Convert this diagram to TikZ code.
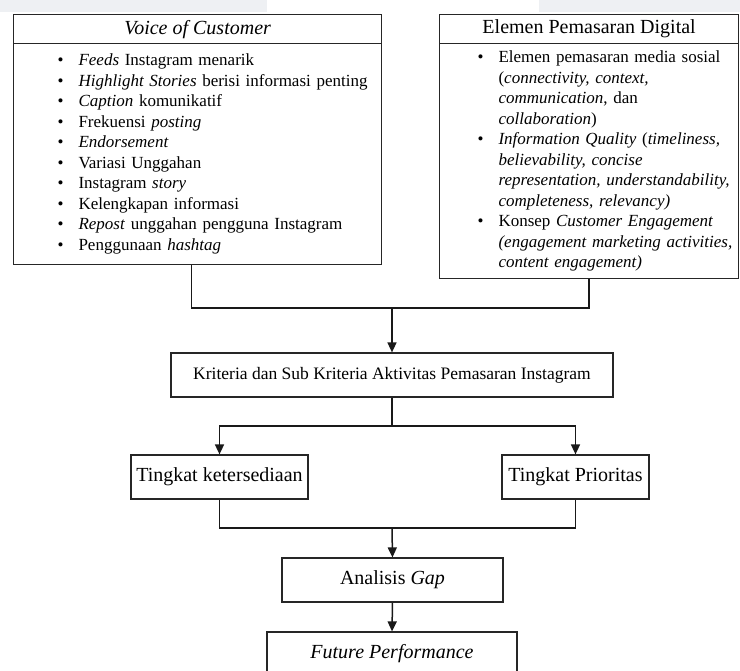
\documentclass[tikz,border=0pt]{standalone}
\usepackage{fontspec}
\setmainfont{Liberation Serif}
\usepackage{tikz}
\usetikzlibrary{arrows.meta}
\definecolor{topgrey}{RGB}{238,240,243}

\begin{document}
\begin{tikzpicture}[x=1pt,y=-1pt,
        box/.style={draw=black!85,line width=1.2pt,inner sep=0pt,minimum height=44pt,font=\fontsize{20}{24}\selectfont},
        headbox/.style={box,anchor=north west,minimum height=29pt},
        listbox/.style={draw=black!85,line width=1.2pt,inner sep=0pt,anchor=north west,align=left,font=\fontsize{17}{20.5}\selectfont},
        link/.style={line width=1.5pt,black!90},
        arr/.style={link,-{Triangle[length=10pt,width=9pt]}}]
        \useasboundingbox (0,0) rectangle (740,671);
        \fill[topgrey] (0,0) rectangle (267,12);
        \fill[topgrey] (539,0) rectangle (740,12);

        \node[headbox,minimum width=368pt,font=\fontsize{20}{24}\selectfont\itshape] (vochead) at (13,14) {Voice of Customer};
        \node[listbox,minimum width=368pt,minimum height=221pt,text width=368pt] (vocbody) at (13,43) {%
            \begin{tabular}{@{\hspace{44pt}}l@{\hspace{15pt}}l@{}}
            \textbullet & \textit{Feeds} Instagram menarik\\
            \textbullet & \textit{Highlight Stories} berisi informasi penting\\
            \textbullet & \textit{Caption} komunikatif\\
            \textbullet & Frekuensi \textit{posting}\\
            \textbullet & \textit{Endorsement}\\
            \textbullet & Variasi Unggahan\\
            \textbullet & Instagram \textit{story}\\
            \textbullet & Kelengkapan informasi\\
            \textbullet & \textit{Repost} unggahan pengguna Instagram\\
            \textbullet & Penggunaan \textit{hashtag}
            \end{tabular}};

        \node[headbox,minimum width=299pt] (epdhead) at (439,14) {Elemen Pemasaran Digital};
        \node[listbox,minimum width=299pt,minimum height=235pt,text width=299pt] (epdbody) at (439,43) {%
            \begin{tabular}{@{\hspace{38pt}}l@{\hspace{15pt}}l@{}}
            \textbullet & Elemen pemasaran media sosial\\
             & (\textit{connectivity, context,}\\
             & \textit{communication}, dan\\
             & \textit{collaboration})\\
            \textbullet & \textit{Information Quality} (\textit{timeliness,}\\
             & \textit{believability, concise}\\
             & \textit{representation, understandability,}\\
             & \textit{completeness, relevancy)}\\
            \textbullet & Konsep \textit{Customer Engagement}\\
             & \textit{(engagement marketing activities,}\\
             & \textit{content engagement)}
            \end{tabular}};

        \node[box,minimum width=442pt,font=\fontsize{17.5}{21}\selectfont] (kriteria) at (392,375) {Kriteria dan Sub Kriteria Aktivitas Pemasaran Instagram};
        \node[box,minimum width=177pt] (ketersediaan) at (219.5,477) {Tingkat ketersediaan};
        \node[box,minimum width=147pt] (prioritas) at (575.5,477) {Tingkat Prioritas};
        \node[box,minimum width=221pt] (analisis) at (392.5,580) {Analisis \textit{Gap}};
        \node[box,minimum width=250pt,font=\fontsize{20}{24}\selectfont\itshape] (future) at (392,654) {Future Performance};

        \coordinate (mergetop) at (392,308);
        \coordinate (split) at (392,426);
        \coordinate (mergebot) at (392,528);

        \draw[link] ([xshift=-6pt]vocbody.south) |- (mergetop);
        \draw[link] (epdbody.south) |- (mergetop);
        \draw[arr] (mergetop) -- (kriteria.north);
        \draw[link] (kriteria.south) -- (split);
        \draw[arr] (split) -| (ketersediaan.north);
        \draw[arr] (split) -| (prioritas.north);
        \draw[link] (ketersediaan.south) |- (mergebot) -| (prioritas.south);
        \draw[arr] (mergebot) -- (analisis.north);
        \draw[arr] (analisis.south) -- (future.north);
    \end{tikzpicture}
\end{document}
